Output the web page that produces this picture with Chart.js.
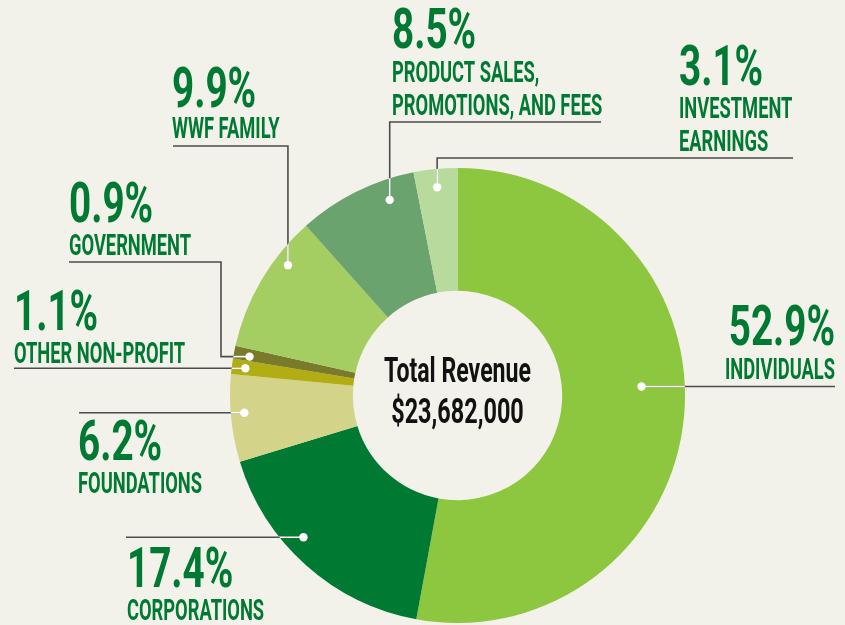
<!DOCTYPE html>
<html lang="en">
<head>
    <meta charset="UTF-8">
    <title>Total Revenue</title>
    <script src="https://cdn.jsdelivr.net/npm/chart.js@4.4.0/dist/chart.umd.min.js"></script>
    <style>
        html, body { margin: 0; padding: 0; background: #f3f2ea; }
        canvas { display: block; }
    </style>
</head>
<body>
<canvas id="myChart" width="845" height="625"></canvas>

<script>
    // data
    const categories = ['INDIVIDUALS', 'CORPORATIONS', 'FOUNDATIONS', 'OTHER NON-PROFIT',
        'GOVERNMENT', 'WWF FAMILY', 'PRODUCT SALES,\nPROMOTIONS, AND FEES', 'INVESTMENT\nEARNINGS'];
    const shares = [52.9, 17.4, 6.2, 1.1, 0.9, 9.9, 8.5, 3.1];
    const totalRevenue = 23682000;

    const sliceColors = ['#8dc63f', '#007a33', '#d4d38a', '#b2ad12', '#797a2a', '#a4cd62', '#6ba36f', '#b8db9d'];

    // where each label sits, and how the leader runs (t = position along the slice, r = share of radius)
    const labelLayout = [
        {t: 0.458, r: 0.81, path: [['h', 835]], x: 835, align: 'right', pctY: 345, nameY: 379},
        {t: 0.59, r: 0.92, path: [['h', 126]], x: 127, align: 'left', pctY: 587, nameY: 620},
        {t: 0.55, r: 0.94, path: [['h', 79]], x: 78, align: 'left', pctY: 460, nameY: 493},
        {t: 0.48, r: 0.94, path: [['h', 14]], x: 14, align: 'left', pctY: 330, nameY: 363},
        {t: 0.38, r: 0.93, path: [['h', 221], ['v', 262], ['h', 69]], x: 69, align: 'left', pctY: 222, nameY: 255},
        {t: 0.70, r: 0.94, path: [['v', 146], ['h', 173]], x: 172, align: 'left', pctY: 107, nameY: 138},
        {t: 0.74, r: 0.91, path: [['v', 122], ['h', 601]], x: 392, align: 'left', pctY: 48, nameY: 82},
        {t: 0.50, r: 0.92, path: [['v', 158], ['h', 793]], x: 679, align: 'left', pctY: 85, nameY: 118}
    ];

    const textGreen = '#007a33';
    const fontFamily = 'Roboto, "Liberation Sans", sans-serif';

    // condensed text : the font is squeezed sideways
    function drawText(ctx, txt, x, y, size, sx, align, color) {
        ctx.save();
        ctx.translate(x, y);
        ctx.scale(sx, 1);
        ctx.font = '700 ' + size + 'px ' + fontFamily;
        ctx.fillStyle = color;
        ctx.textAlign = align;
        ctx.textBaseline = 'alphabetic';
        ctx.fillText(txt, 0, 0);
        ctx.restore();
    }

    const labelsPlugin = {
        id: 'leaderLabels',
        afterDraw(chart) {
            const ctx = chart.ctx;
            const arcs = chart.getDatasetMeta(0).data;

            arcs.forEach((arc, i) => {
                const lay = labelLayout[i];
                const p = arc.getProps(['x', 'y', 'startAngle', 'endAngle', 'outerRadius'], true);
                const ang = p.startAngle + lay.t * (p.endAngle - p.startAngle);
                const dx = p.x + Math.cos(ang) * p.outerRadius * lay.r;
                const dy = p.y + Math.sin(ang) * p.outerRadius * lay.r;

                // leader path
                let pts = [[dx, dy]];
                let cx = dx, cy = dy;
                lay.path.forEach(step => {
                    if (step[0] === 'h') { cx = step[1]; } else { cy = step[1]; }
                    pts.push([cx, cy]);
                });
                let trace = () => {
                    ctx.beginPath();
                    ctx.moveTo(pts[0][0], pts[0][1]);
                    for (let k = 1; k < pts.length; k++) ctx.lineTo(pts[k][0], pts[k][1]);
                };

                ctx.save();
                ctx.lineWidth = 1.6;
                ctx.strokeStyle = '#4d4d4a';
                trace();
                ctx.stroke();
                // white inside the ring
                ctx.beginPath();
                ctx.arc(p.x, p.y, p.outerRadius, 0, Math.PI * 2);
                ctx.clip();
                ctx.strokeStyle = '#ffffff';
                trace();
                ctx.stroke();
                ctx.restore();

                ctx.beginPath();
                ctx.arc(dx, dy, 4.2, 0, Math.PI * 2);
                ctx.fillStyle = '#ffffff';
                ctx.fill();

                // texts
                drawText(ctx, shares[i].toFixed(1) + '%', lay.x, lay.pctY, 56, 0.69, lay.align, textGreen);
                categories[i].split('\n').forEach((line, k) => {
                    drawText(ctx, line, lay.x, lay.nameY + k * 33, 30, 0.61, lay.align, textGreen);
                });
            });

            // centre
            const c = arcs[0].getProps(['x', 'y'], true);
            drawText(ctx, 'Total Revenue', c.x, c.y - 14, 35, 0.66, 'center', '#111111');
            drawText(ctx, '$' + totalRevenue.toLocaleString('en-US'), c.x, c.y + 27, 35, 0.67, 'center', '#111111');
        }
    };

    function buildChart() {
        let content = document.querySelector('#myChart').getContext('2d');
        let myChart = new Chart(content, {
            type: 'doughnut',
            data: {
                labels: categories,
                datasets: [{
                    data: shares,
                    backgroundColor: sliceColors,
                    borderWidth: 0
                }]
            },
            options: {
                responsive: false,
                animation: false,
                cutout: '46%',
                layout: {padding: {left: 230, right: 160, top: 168, bottom: 2}},
                plugins: {
                    legend: {display: false},
                    tooltip: {enabled: false}
                }
            },
            plugins: [labelsPlugin]
        });
        return myChart;
    }

    buildChart();
</script>
</body>
</html>
